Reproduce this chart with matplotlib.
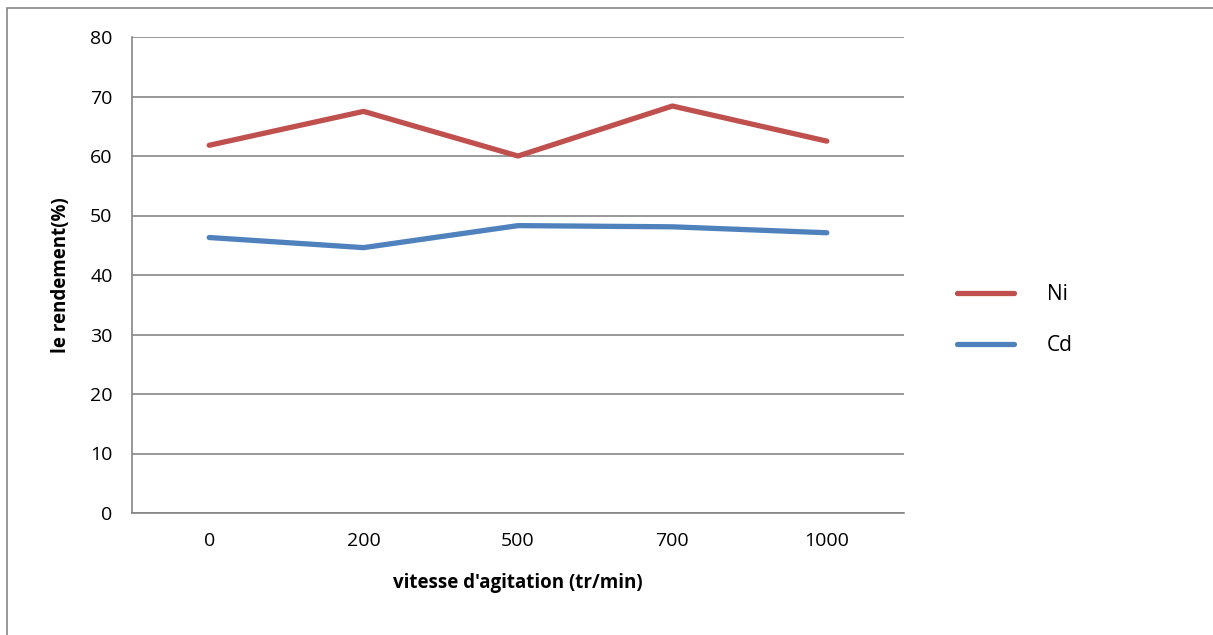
import matplotlib.pyplot as plt
from matplotlib.patches import Rectangle

vitesse = ['0', '200', '500', '700', '1000']
ni = [61.8, 67.5, 60.0, 68.4, 62.5]
cd = [46.3, 44.6, 48.3, 48.1, 47.1]

plt.rcParams['font.family'] = ['Open Sans', 'DejaVu Sans']

fig = plt.figure(figsize=(12.13, 6.35), dpi=100)
ax = fig.add_axes([132 / 1213, 1 - 513 / 635, 772 / 1213, 476 / 635])

x = range(len(vitesse))
ax.plot(x, ni, color='#C0504D', lw=3.8, solid_capstyle='round', label='Ni')
ax.plot(x, cd, color='#4F81BD', lw=3.8, solid_capstyle='round', label='Cd')

ax.set_xlim(-0.5, len(vitesse) - 0.5)
ax.set_ylim(0, 80)
ax.set_yticks(range(0, 81, 10))
ax.set_xticks(list(x))
ax.set_xticklabels(vitesse)
ax.tick_params(length=0, labelsize=14, pad=14)
ax.tick_params(axis='x', pad=14)
ax.grid(axis='y', color='#868686', lw=1.2)
ax.set_axisbelow(True)
for side in ['top', 'right']:
    ax.spines[side].set_visible(False)
for side in ['left', 'bottom']:
    ax.spines[side].set_color('#868686')
    ax.spines[side].set_linewidth(1.2)

ax.set_xlabel("vitesse d'agitation (tr/min)", fontsize=13.5, fontweight='bold', labelpad=16)
ax.set_ylabel('le rendement(%)', fontsize=13.5, fontweight='bold', labelpad=14)

ax.legend(loc='center left', bbox_to_anchor=(1.045, 0.405), frameon=False,
          fontsize=15, handlelength=2.7, handletextpad=1.6, labelspacing=1.45)

fig.patches.append(Rectangle((7 / 1213, -0.1), 1.2, 0.1 + (635 - 8) / 635,
                             transform=fig.transFigure, fill=False,
                             edgecolor='#868686', lw=1.2))

fig.savefig('out.png', dpi=100)
